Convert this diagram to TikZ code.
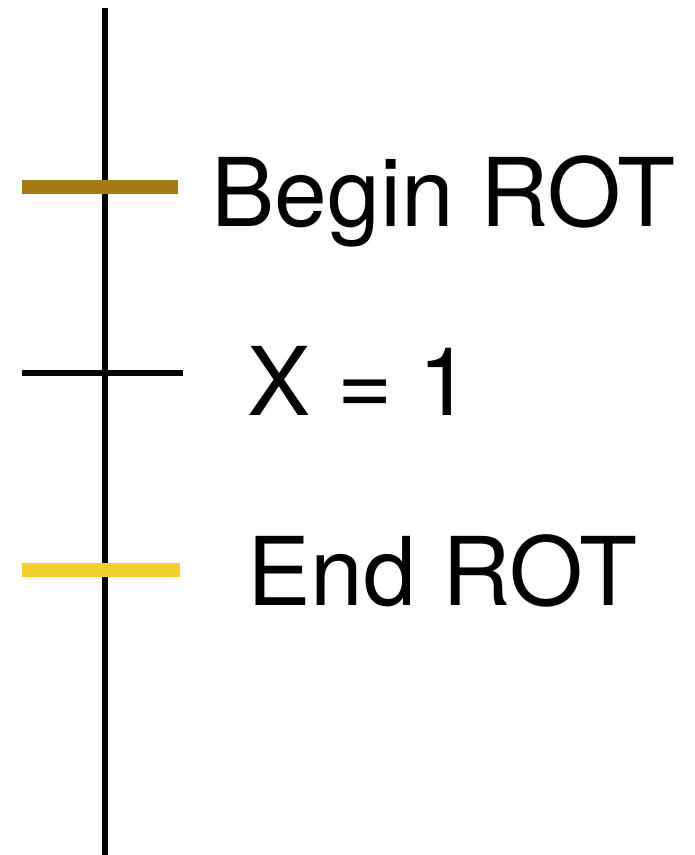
\documentclass[tikz,border=0pt]{standalone}
\usepackage{fontspec}
\setmainfont{TeX Gyre Heros}
\usepackage{xcolor}
\definecolor{rotbegin}{HTML}{A67A14}
\definecolor{rotend}{HTML}{F2D02E}

\begin{document}
\begin{tikzpicture}[x=0.02cm,y=-0.02cm,
	tick/.style={line width=3pt},
	mark rot/.style={line width=7.5pt},
	lbl/.style={anchor=base west,inner sep=0pt,font=\fontsize{54}{60}\selectfont}]
		\useasboundingbox (0,0) rectangle (695,855);
		% TIMELINE
		\coordinate (top) at (105,8);
		\coordinate (bot) at (105,855);
		\draw [line width=3.2pt] (top) -- (bot);
		% TICKS
		\coordinate (b1) at (22,187);
		\coordinate (b2) at (178,187);
		\coordinate (x1) at (22,373);
		\coordinate (x2) at (183,373);
		\coordinate (e1) at (22,570);
		\coordinate (e2) at (180,570);
		\draw [mark rot,rotbegin] (b1) -- (b2);
		\draw [tick] (x1) -- (x2);
		\draw [mark rot,rotend] (e1) -- (e2);
		% LABELS
		\node [lbl] (begin) at (211,226) {Begin ROT};
		\node [lbl] (assign) at (247,415) {X = 1};
		\node [lbl] (end) at (247,605) {End ROT};
		\end{tikzpicture}
\end{document}
